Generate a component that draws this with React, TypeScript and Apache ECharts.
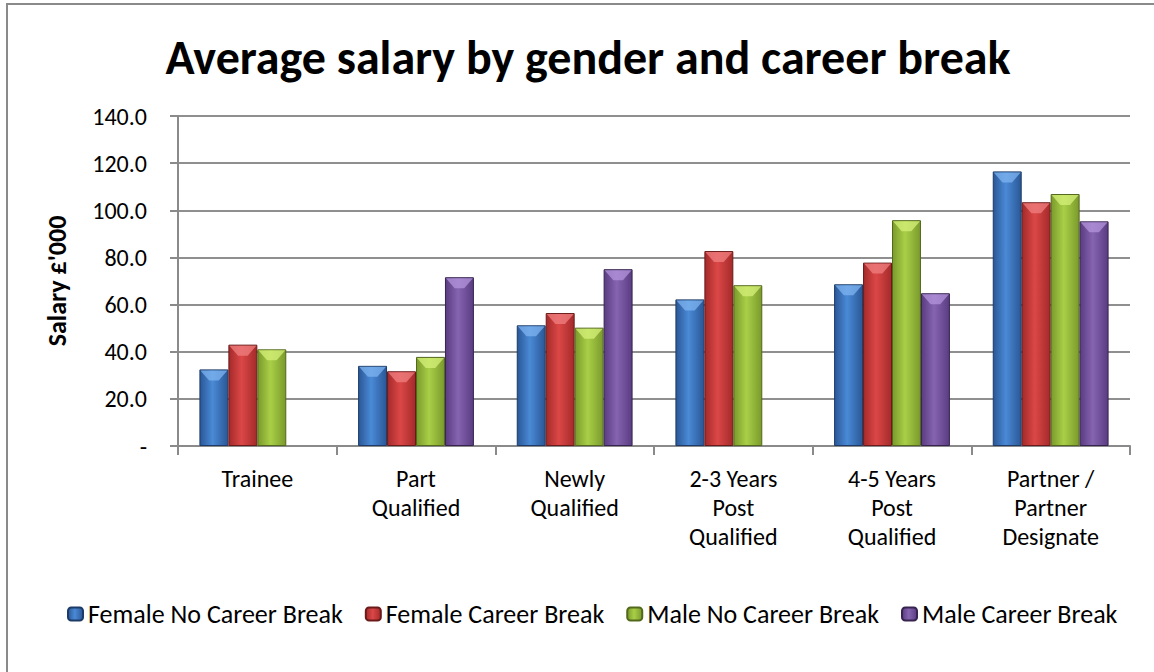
import React, { useEffect, useRef } from "react";
import * as echarts from "echarts";

const categories = [
  "Trainee",
  "Part\nQualified",
  "Newly\nQualified",
  "2-3 Years\nPost\nQualified",
  "4-5 Years\nPost\nQualified",
  "Partner /\nPartner\nDesignate",
];
const seriesNames = [
  "Female No Career Break",
  "Female Career Break",
  "Male No Career Break",
  "Male Career Break",
];
const femaleNoBreak = [32.5, 34.0, 51.2, 62.2, 68.6, 116.5];
const femaleBreak = [43.0, 31.7, 56.4, 82.7, 77.8, 103.4];
const maleNoBreak = [41.0, 37.8, 50.2, 68.2, 95.8, 106.9];
const maleBreak = [null, 71.6, 75.0, null, 64.8, 95.3];
const yTicks = { min: 0, max: 140, interval: 20 };

const palettes = [
  { edge: "#2a5796", mid: "#4a8ad6", border: "#1d3b66", hi: "#7fb4f0" },
  { edge: "#a42a2a", mid: "#dc4747", border: "#6b1a1a", hi: "#f08080" },
  { edge: "#7a9a2c", mid: "#a9cf47", border: "#52681c", hi: "#d6f07a" },
  { edge: "#5a3c82", mid: "#8664b0", border: "#36244f", hi: "#b496dc" },
];

const FONT = "Carlito, Lato, 'Noto Sans', sans-serif";
const CAT_GAP = 0.27;

export default function App() {
  const ref = useRef<HTMLDivElement>(null);
  useEffect(() => {
    if (!ref.current) return;
    const chart = echarts.init(ref.current, null, { renderer: "svg" });
    const data = [femaleNoBreak, femaleBreak, maleNoBreak, maleBreak];
    const bars = seriesNames.map((name, i) => ({
      name,
      type: "bar",
      data: data[i],
      barGap: "0%",
      barCategoryGap: CAT_GAP * 100 + "%",
      itemStyle: {
        color: new echarts.graphic.LinearGradient(0, 0, 1, 0, [
          { offset: 0, color: palettes[i].edge },
          { offset: 0.45, color: palettes[i].mid },
          { offset: 1, color: palettes[i].edge },
        ]),
        borderColor: palettes[i].border,
        borderWidth: 1,
      },
    }));
    const highlights = seriesNames.map((name, i) => ({
      name: name + " hl",
      type: "custom",
      silent: true,
      z: 5,
      data: data[i].map((v, k) => [k, v]),
      renderItem: (params: any, api: any) => {
        const v = api.value(1);
        if (v == null || isNaN(v)) return null;
        const cat = api.value(0);
        const top = api.coord([cat, v]);
        const bandW = api.size([1, 0])[0];
        const bw = (bandW * (1 - CAT_GAP)) / 4;
        const x0 = top[0] - 2 * bw + i * bw + 1;
        const x1 = x0 + bw - 2;
        const y = top[1] + 1;
        const h = Math.min(10, bw * 0.35);
        return {
          type: "polygon",
          shape: {
            points: [
              [x0, y],
              [x1, y],
              [x1 - bw * 0.3, y + h],
              [x0 + bw * 0.3, y + h],
            ],
          },
          style: { fill: palettes[i].hi, opacity: 0.75 },
        };
      },
    }));
    chart.setOption({
      animation: false,
      backgroundColor: "#ffffff",
      textStyle: { fontFamily: FONT },
      title: {
        text: "Average salary by gender and career break",
        left: 583,
        textAlign: "center",
        top: 28,
        textStyle: { fontFamily: FONT, fontSize: 48, fontWeight: "bold", color: "#000" },
      },
      graphic: [
        {
          type: "rect",
          shape: { x: 7, y: 4, width: 1300, height: 900 },
          style: { fill: "none", stroke: "#8a8a8a", lineWidth: 2 },
          silent: true,
        },
      ],
      legend: {
        data: seriesNames,
        top: 596,
        left: 62,
        itemWidth: 15,
        itemHeight: 13,
        itemGap: 22,
        textStyle: { fontFamily: FONT, fontSize: 26, color: "#000" },
      },
      grid: { left: 178, right: 24, top: 116, bottom: 226, containLabel: false },
      xAxis: {
        type: "category",
        data: categories,
        axisLine: { lineStyle: { color: "#8a8a8a", width: 2 } },
        axisTick: { show: true, length: 9, lineStyle: { color: "#8a8a8a", width: 2 } },
        axisLabel: {
          fontFamily: FONT,
          fontSize: 24,
          color: "#000",
          lineHeight: 29,
          margin: 18,
          interval: 0,
        },
      },
      yAxis: {
        type: "value",
        min: yTicks.min,
        max: yTicks.max,
        interval: yTicks.interval,
        name: "Salary £'000",
        nameLocation: "middle",
        nameGap: 108,
        nameTextStyle: { fontFamily: FONT, fontSize: 26, fontWeight: "bold", color: "#000" },
        axisLine: { show: true, lineStyle: { color: "#8a8a8a", width: 2 } },
        axisTick: { show: true, length: 8, lineStyle: { color: "#8a8a8a", width: 2 } },
        splitLine: { lineStyle: { color: "#8f8f8f", width: 2 } },
        axisLabel: {
          fontFamily: FONT,
          fontSize: 24,
          color: "#000",
          margin: 31,
          formatter: (v: number) => (v === 0 ? "-" : v.toFixed(1)),
        },
      },
      series: [...bars, ...highlights],
    });
    return () => chart.dispose();
  }, []);
  return (
    <div style={{ position: "absolute", left: 0, top: 0, width: 1154, height: 672, overflow: "hidden" }}>
      <div ref={ref} style={{ width: 1154, height: 672 }} />
    </div>
  );
}
